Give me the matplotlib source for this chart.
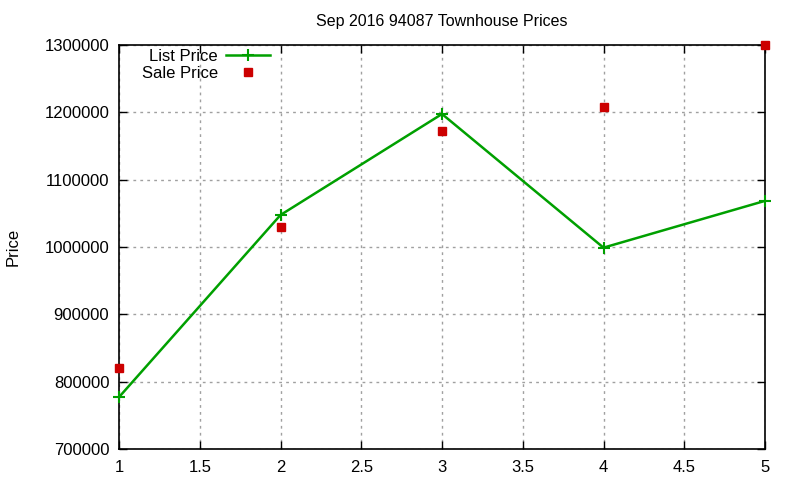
import matplotlib
matplotlib.use('Agg')
from matplotlib import pyplot as plt

plt.rcParams['font.family'] = ['Liberation Sans', 'DejaVu Sans']

x = [1, 2, 3, 4, 5]
listPrice = [777000, 1047500, 1197500, 999000, 1068500]
salePrice = [820000, 1030000, 1172500, 1208000, 1300000]

fig = plt.figure(figsize=(8, 4.8), dpi=100)
ax = fig.add_axes([0.14875, 0.0646, 0.8075, 0.8417])

ax.plot(x, listPrice, color='#00a000', lw=1.8, marker='+', ms=8, mew=1.5,
        label='List Price', clip_on=False, zorder=3)
ax.plot(x, salePrice, ls='none', color='#cc0000', marker='s', ms=6,
        label='Sale Price', clip_on=False, zorder=3)

ax.set_xlim(1, 5)
ax.set_ylim(700000, 1300000)
ax.set_xticks([1, 1.5, 2, 2.5, 3, 3.5, 4, 4.5, 5])
ax.set_xticklabels(['1', '1.5', '2', '2.5', '3', '3.5', '4', '4.5', '5'])
ax.set_yticks(range(700000, 1300001, 100000))
ax.set_yticklabels([str(v) for v in range(700000, 1300001, 100000)])
ax.tick_params(direction='in', top=True, right=True, labelsize=12, length=6, width=1)
ax.tick_params(axis='y', pad=7)
ax.tick_params(axis='x', pad=8)
ax.grid(True, color='#a0a0a0', ls=(0, (2, 3)), lw=1)
for sp in ax.spines.values():
    sp.set_linewidth(1.2)

ax.set_title('Sep 2016 94087 Townhouse Prices', fontsize=11.5, pad=14)
ax.set_ylabel('Price', fontsize=12)
ax.yaxis.set_label_coords(-0.153, 0.5)

leg = ax.legend(loc='upper right', bbox_to_anchor=(0.236, 0.995), frameon=False, markerfirst=False,
                fontsize=12, handlelength=2.6, handletextpad=0.5, labelspacing=0.12,
                borderaxespad=0.0, borderpad=0.1)
for t in leg.get_texts():
    t.set_ha('right')
leg._legend_box.align = 'right'

fig.savefig('out.png')
